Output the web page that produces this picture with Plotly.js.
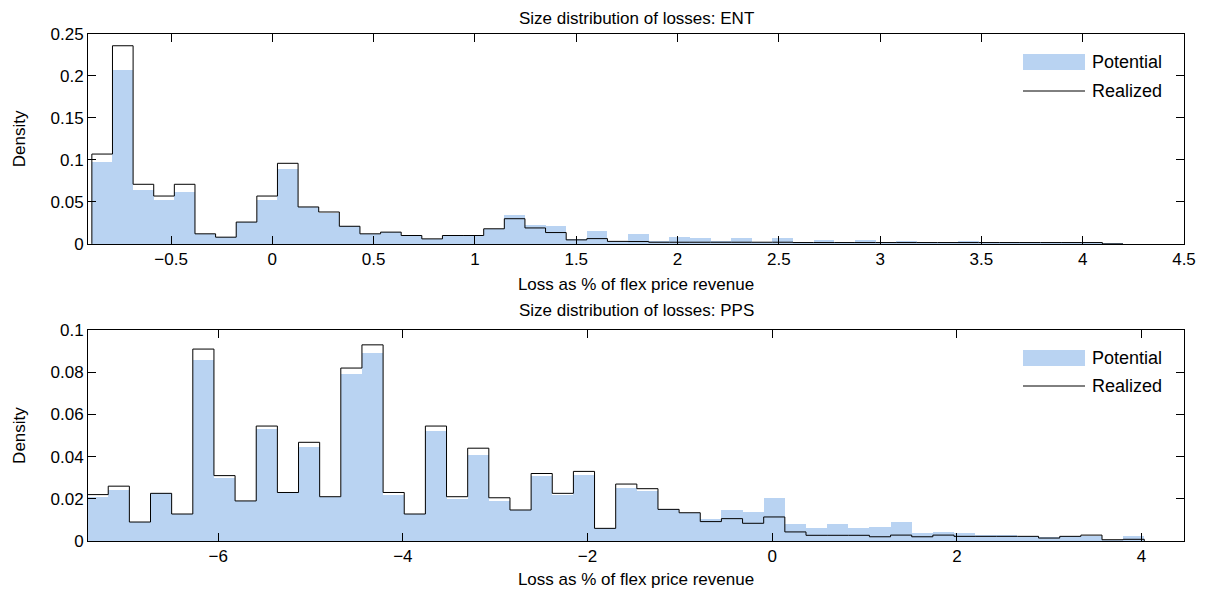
<!DOCTYPE html>
<html>
<head>
<meta charset="utf-8">
<script src="https://cdn.plot.ly/plotly-3.0.1.min.js"></script>
<style>body{margin:0;background:#fff;} #chart{width:1211px;height:594px;}</style>
</head>
<body>
<div id="chart"></div>
<script>
// ENT histogram: 50 bins
let entStart = -0.891, entWidth = 0.1018;
let entPotential = [0.098,0.207,0.064,0.052,0.062,0.012,0.008,0.026,0.052,0.089,
  0.044,0.037,0.021,0.012,0.014,0.010,0.006,0.010,0.010,0.018,
  0.034,0.023,0.021,0.0056,0.0155,0.003,0.012,0.0036,0.0083,0.007,
  0.0036,0.007,0.0025,0.007,0.0025,0.005,0.002,0.005,0.002,0.0036,
  0.002,0.002,0.0036,0.002,0.002,0.002,0.002,0.002,0.002,0.001];
let entRealized = [0.107,0.236,0.071,0.057,0.071,0.012,0.008,0.026,0.057,0.096,
  0.044,0.038,0.021,0.012,0.014,0.010,0.006,0.010,0.010,0.018,
  0.030,0.019,0.0135,0.0048,0.0063,0.003,0.0028,0.002,0.002,0.002,
  0.002,0.002,0.002,0.002,0.0016,0.0016,0.0016,0.0016,0.0016,0.0016,
  0.0016,0.0016,0.0016,0.0016,0.0016,0.0016,0.0016,0.0016,0.0016,0];

// PPS histogram: 50 bins
let ppsStart = -7.42, ppsWidth = 0.229;
let ppsPotential = [0.0207,0.024,0.009,0.0226,0.0128,0.086,0.030,0.019,0.053,0.023,
  0.0447,0.021,0.079,0.089,0.022,0.0128,0.052,0.020,0.041,0.019,
  0.0147,0.0307,0.0218,0.0314,0.006,0.025,0.0237,0.015,0.0134,0.0103,
  0.0145,0.0136,0.0202,0.0079,0.006,0.0079,0.006,0.0065,0.0088,0.0036,
  0.0044,0.0036,0.003,0.003,0.0025,0.0017,0.0022,0.0024,0.0005,0.0022];
let ppsRealized = [0.022,0.026,0.009,0.0226,0.0128,0.091,0.031,0.019,0.0545,0.023,
  0.0468,0.021,0.082,0.093,0.023,0.0128,0.0545,0.021,0.044,0.0205,
  0.0147,0.032,0.0226,0.033,0.006,0.027,0.0248,0.015,0.0134,0.0092,
  0.0106,0.0084,0.0114,0.0043,0.0027,0.0027,0.0027,0.002,0.0028,0.002,
  0.0028,0.0022,0.0022,0.0022,0.0022,0.0014,0.0022,0.0028,0.0006,0.0008];

let blue = '#b9d3f2';

function centers(start, w, n) { return Array.from({length: n}, (_, i) => start + (i + 0.5) * w); }
function edges(start, w, n) { return Array.from({length: n + 1}, (_, i) => start + i * w); }
function stepXY(start, w, vals) {
  let e = edges(start, w, vals.length);
  return { x: [e[0]].concat(e), y: [0].concat(vals, [0]) };
}

let entStep = stepXY(entStart, entWidth, entRealized);
let ppsStep = stepXY(ppsStart, ppsWidth, ppsRealized);

let traces = [
  { type: 'bar', x: centers(entStart, entWidth, entPotential.length), y: entPotential, width: entWidth,
    marker: { color: blue, line: { width: 0 } }, xaxis: 'x', yaxis: 'y', showlegend: false },
  { type: 'scatter', mode: 'lines', x: entStep.x, y: entStep.y, line: { shape: 'hv', color: '#000', width: 1 },
    xaxis: 'x', yaxis: 'y', showlegend: false },
  { type: 'bar', x: centers(ppsStart, ppsWidth, ppsPotential.length), y: ppsPotential, width: ppsWidth,
    marker: { color: blue, line: { width: 0 } }, xaxis: 'x2', yaxis: 'y2', showlegend: false },
  { type: 'scatter', mode: 'lines', x: ppsStep.x, y: ppsStep.y, line: { shape: 'hv', color: '#000', width: 1 },
    xaxis: 'x2', yaxis: 'y2', showlegend: false }
];

let fnt = { family: 'Liberation Sans, Arial, sans-serif', size: 17, color: '#000' };
let legFnt = { family: 'Liberation Sans, Arial, sans-serif', size: 18, color: '#000' };
let axBase = {
  showline: true, mirror: 'ticks', linecolor: '#000', linewidth: 1, ticks: 'inside', ticklen: 8,
  tickcolor: '#000', showgrid: false, zeroline: false, tickfont: fnt
};

let top1 = 0.586, bot2 = 0.416;
let legend = [];
[[62, 91], [358, 386]].forEach(function (d) {
  let yTop = d[0], yLine = d[1];
  function py(p) { return 1 - (p - 34) / 507; }
  legend.push({ type: 'rect', xref: 'paper', yref: 'paper', x0: (1023 - 88) / 1096, x1: (1085 - 88) / 1096,
    y0: py(yTop - 8), y1: py(yTop + 8), fillcolor: blue, line: { width: 0 } });
  legend.push({ type: 'line', xref: 'paper', yref: 'paper', x0: (1023 - 88) / 1096, x1: (1085 - 88) / 1096,
    y0: py(yLine), y1: py(yLine), line: { color: '#000', width: 1 } });
});
function legText(txt, yPix) {
  return { text: txt, xref: 'paper', yref: 'paper', x: (1090 - 88) / 1096, y: 1 - (yPix - 34) / 507,
    xanchor: 'left', yanchor: 'middle', showarrow: false, font: legFnt };
}

let layout = {
  width: 1211, height: 594,
  margin: { l: 88, r: 27, t: 34, b: 53 },
  paper_bgcolor: '#fff', plot_bgcolor: '#fff',
  barmode: 'overlay', bargap: 0, showlegend: false,
  font: fnt,
  xaxis: Object.assign({}, axBase, { anchor: 'y', range: [-0.91, 4.5], tickvals: [-0.5, 0, 0.5, 1, 1.5, 2, 2.5, 3, 3.5, 4, 4.5],
    ticktext: ['\u22120.5', '0', '0.5', '1', '1.5', '2', '2.5', '3', '3.5', '4', '4.5'],
    title: { text: 'Loss as % of flex price revenue', font: fnt, standoff: 9 } }),
  yaxis: Object.assign({}, axBase, { anchor: 'x', domain: [top1, 1], range: [0, 0.25], tickvals: [0, 0.05, 0.1, 0.15, 0.2, 0.25],
    ticktext: ['0', '0.05', '0.1', '0.15', '0.2', '0.25'], title: { text: 'Density', font: fnt, standoff: 20 } }),
  xaxis2: Object.assign({}, axBase, { anchor: 'y2', range: [-7.41, 4.46], tickvals: [-6, -4, -2, 0, 2, 4],
    ticktext: ['\u22126', '\u22124', '\u22122', '0', '2', '4'],
    title: { text: 'Loss as % of flex price revenue', font: fnt, standoff: 7 } }),
  yaxis2: Object.assign({}, axBase, { anchor: 'x2', domain: [0, bot2], range: [0, 0.1], tickvals: [0, 0.02, 0.04, 0.06, 0.08, 0.1],
    ticktext: ['0', '0.02', '0.04', '0.06', '0.08', '0.1'], title: { text: 'Density', font: fnt, standoff: 20 } }),
  shapes: legend,
  annotations: [
    { text: 'Size distribution of losses: ENT', xref: 'paper', yref: 'paper', x: 0.5, y: 1, yshift: 4,
      xanchor: 'center', yanchor: 'bottom', showarrow: false, font: fnt },
    { text: 'Size distribution of losses: PPS', xref: 'paper', yref: 'paper', x: 0.5, y: bot2, yshift: 8,
      xanchor: 'center', yanchor: 'bottom', showarrow: false, font: fnt },
    legText('Potential', 62), legText('Realized', 91),
    legText('Potential', 358), legText('Realized', 386)
  ]
};

Plotly.newPlot('chart', traces, layout, { displayModeBar: false, staticPlot: true });
</script>
</body>
</html>
